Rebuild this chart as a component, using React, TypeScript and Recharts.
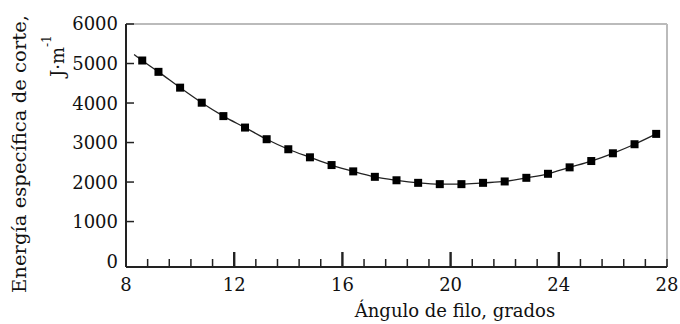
import React from "react";
import { ComposedChart, Line, XAxis, YAxis, ReferenceLine } from "recharts";

// cutting edge angle (degrees) and specific cutting energy (J·m-1)
const angles = [
  8.6, 9.2, 10.0, 10.8, 11.6, 12.4, 13.2, 14.0, 14.8, 15.6, 16.4, 17.2, 18.0,
  18.8, 19.6, 20.4, 21.2, 22.0, 22.8, 23.6, 24.4, 25.2, 26.0, 26.8, 27.6,
];
const energy = [
  5076, 4789, 4389, 4008, 3669, 3379, 3084, 2830, 2626, 2430, 2270, 2132, 2045,
  1980, 1947, 1947, 1980, 2015, 2107, 2209, 2372, 2532, 2728, 2957, 3219,
];
// the fitted curve starts a little left of the first measured point
const fitStartAngle = 8.3;
const fitStartEnergy = 5229;

const xTicks = [
  8, 8.8, 9.6, 10.4, 11.2, 12, 12.8, 13.6, 14.4, 15.2, 16, 16.8, 17.6, 18.4,
  19.2, 20, 20.8, 21.6, 22.4, 23.2, 24, 24.8, 25.6, 26.4, 27.2, 28,
];
const xLabels = [8, 12, 16, 20, 24, 28];
const xMajor = [12, 16, 20, 24];
const yTicks = [0, 1000, 2000, 3000, 4000, 5000, 6000];

const data = [
  { x: fitStartAngle, fit: fitStartEnergy, value: null as number | null },
  ...angles.map((a, i) => ({ x: a, fit: energy[i], value: energy[i] })),
];

const FONT = "DejaVu Serif";
const textStyle = { fontFamily: FONT };

function XTick(props: any) {
  const { x, y, payload } = props;
  const v = payload.value;
  const major = xMajor.includes(v);
  const len = major ? 15 : 8;
  return (
    <g>
      {v !== 8 && (
        <line
          x1={x}
          x2={x}
          y1={y}
          y2={y - len}
          stroke="#222"
          strokeWidth={major ? 2.4 : 1.5}
        />
      )}
      {xLabels.includes(v) && (
        <text x={x} y={y + 24} textAnchor="middle" fontSize={18} style={textStyle} fill="#111">
          {v}
        </text>
      )}
    </g>
  );
}

function YTick(props: any) {
  const { x, y, payload } = props;
  const v = payload.value;
  return (
    <g>
      {v !== 0 && <line x1={x} x2={x + 8} y1={y} y2={y} stroke="#222" strokeWidth={1.5} />}
      <text x={x - 8} y={y} dy="0.36em" textAnchor="end" fontSize={18} style={textStyle} fill="#111">
        {v}
      </text>
    </g>
  );
}

function SquareDot(props: any) {
  const { cx, cy, payload } = props;
  if (payload.value == null || cx == null || cy == null) return <g />;
  return <rect x={cx - 4} y={cy - 4} width={8} height={8} fill="#000" />;
}

export default function App() {
  return (
    <div style={{ position: "absolute", left: 0, top: 0, width: 680, height: 324, background: "#fff", fontFamily: FONT }}>
      <ComposedChart
        width={680}
        height={324}
        data={data}
        margin={{ top: 24, right: 13, bottom: 0, left: 0 }}
      >
        <XAxis
          type="number"
          dataKey="x"
          domain={[8, 28]}
          ticks={xTicks}
          interval={0}
          height={57}
          tickSize={0}
          tickMargin={0}
          tickLine={false}
          tick={<XTick />}
          axisLine={{ stroke: "#222", strokeWidth: 2 }}
        />
        <YAxis
          type="number"
          domain={[-150, 6000]}
          ticks={yTicks}
          interval={0}
          width={126}
          tickSize={0}
          tickMargin={0}
          tickLine={false}
          tick={<YTick />}
          axisLine={{ stroke: "#222", strokeWidth: 2 }}
        />
        <ReferenceLine y={6000} stroke="#bbb" strokeWidth={2} />
        <ReferenceLine x={28} stroke="#bbb" strokeWidth={2} />
        <Line
          dataKey="fit"
          type="monotone"
          stroke="#222"
          strokeWidth={1.3}
          dot={false}
          isAnimationActive={false}
        />
        <Line
          dataKey="value"
          stroke="none"
          dot={<SquareDot />}
          activeDot={false}
          isAnimationActive={false}
        />
      </ComposedChart>
      <svg
        width={680}
        height={324}
        style={{ position: "absolute", left: 0, top: 0, pointerEvents: "none" }}
      >
        <text
          x={455}
          y={317}
          textAnchor="middle"
          fontSize={18}
          style={textStyle}
          fill="#111"
        >
          Ángulo de filo, grados
        </text>
        <text
          x={26}
          y={154}
          transform="rotate(-90, 26, 154)"
          textAnchor="middle"
          fontSize={18}
          style={textStyle}
          fill="#111"
          textLength={278}
          lengthAdjust="spacingAndGlyphs"
        >
          Energía específica de corte,
        </text>
        <text
          x={64}
          y={77}
          transform="rotate(-90, 64, 77)"
          fontSize={18}
          style={textStyle}
          fill="#111"
        >
          J·m
          <tspan dy={-13} fontSize={12}>
            -1
          </tspan>
        </text>
      </svg>
    </div>
  );
}
